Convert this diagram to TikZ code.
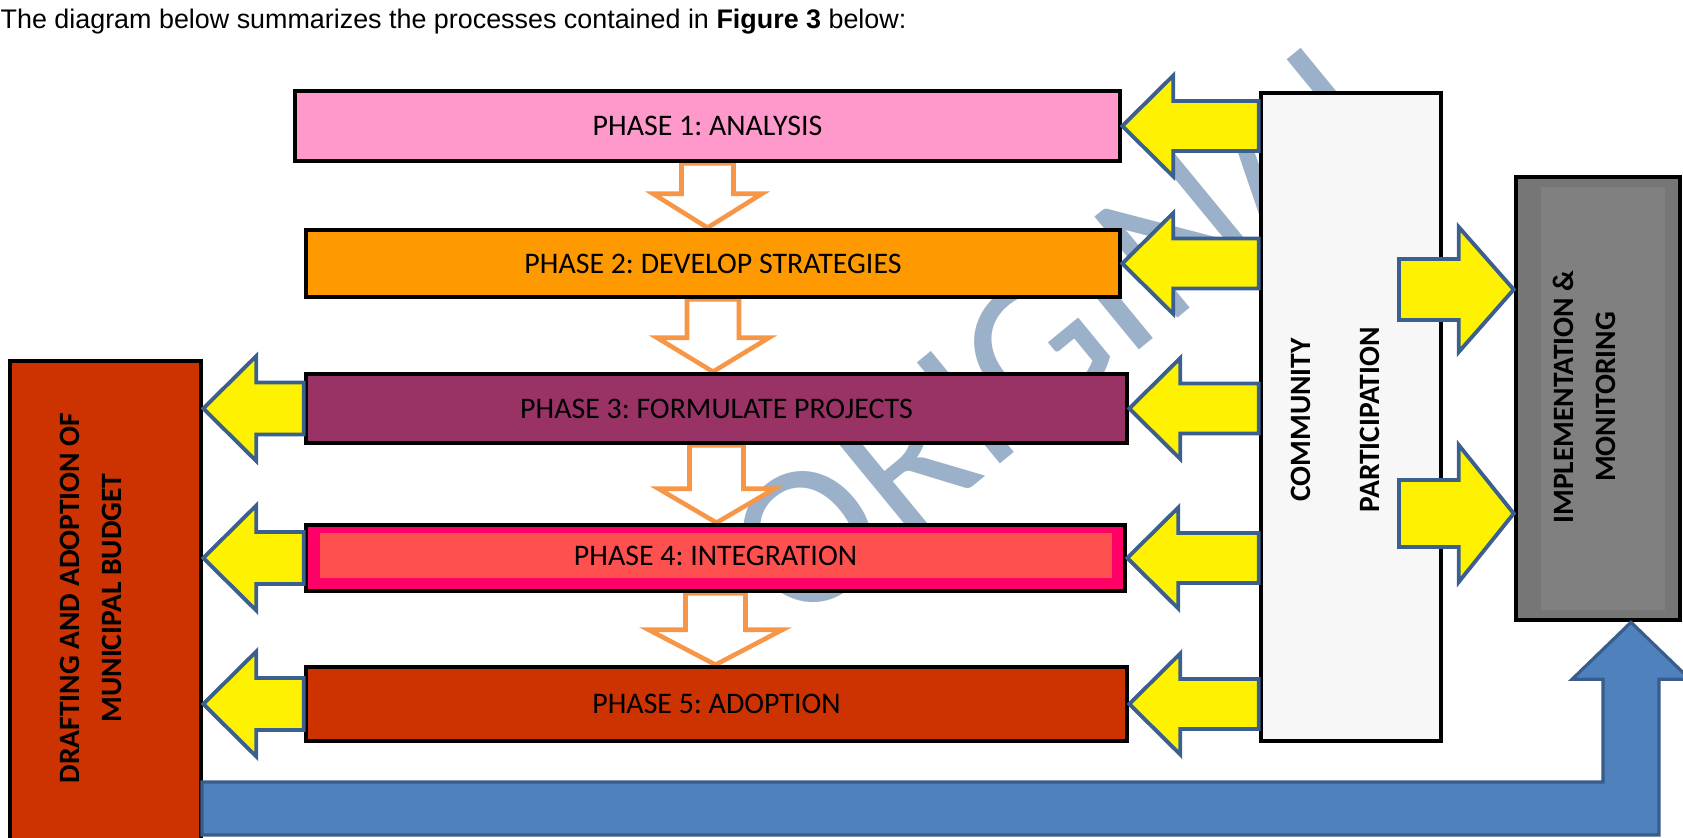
\documentclass[tikz,border=0pt]{standalone}
\usepackage{fontspec}
\usepackage{xcolor}
\usepackage{tikz}
\usetikzlibrary{calc,backgrounds}
\newfontfamily\calfont{Carlito}
\newfontfamily\capfont{Liberation Sans}
\definecolor{phaseA}{HTML}{FF99CC}
\definecolor{phaseB}{HTML}{FF9900}
\definecolor{phaseC}{HTML}{993366}
\definecolor{phaseD}{HTML}{FF0066}
\definecolor{phaseDin}{HTML}{FF5050}
\definecolor{phaseE}{HTML}{CC3300}
\definecolor{commfill}{HTML}{F7F7F7}
\definecolor{implout}{HTML}{767676}
\definecolor{implin}{HTML}{808080}
\definecolor{arrowedge}{HTML}{3B5F8E}
\definecolor{flowline}{HTML}{F79646}
\definecolor{budgetblue}{HTML}{4F81BD}
\definecolor{budgetedge}{HTML}{385D8A}
\definecolor{wmark}{HTML}{9BB0C9}
\frenchspacing
\tikzset{
  box/.style={draw=black, line width=1.3pt, inner sep=0pt},
  ptext/.style={text=black, font={\calfont\fontsize{8.5}{10}\selectfont}},
  phase/.style={box, ptext},
  vlab/.style={rotate=90, align=center, inner sep=0pt, font={\calfont\bfseries\fontsize{8.4}{12}\selectfont}},
  yarrow/.style={fill=yellow, draw=arrowedge, line width=1.1pt},
  flow/.style={fill=white, draw=flowline, line width=1.3pt},
  budget/.style={fill=budgetblue, draw=budgetedge, line width=0.9pt},
  wm/.style={text=wmark, rotate=39.4, inner sep=0pt, font={\calfont\fontsize{58}{62}\selectfont}},
}
% tail, tip, half shaft, half head, head length
\newcommand{\blockarrow}[6]{%
  \coordinate (ba) at ($(#3)!#6!(#2)$);
  \draw[#1] ($(#2)!#4!90:(#3)$) -- ($(ba)!#4!90:(#3)$) -- ($(ba)!#5!90:(#3)$) -- (#3)
    -- ($(ba)!#5!-90:(#3)$) -- ($(ba)!#4!-90:(#3)$) -- ($(#2)!#4!-90:(#3)$) -- cycle;%
}

\begin{document}
\begin{tikzpicture}
  \useasboundingbox (0,0) rectangle (16.83,-8.37);
  \node[anchor=base west, inner sep=0pt, font={\capfont\fontsize{7.65}{9}\selectfont}] (cap) at (0,-0.29)
    {The diagram below summarizes the processes contained in \textbf{Figure 3} below:};

  \node[phase, fill=phaseA, minimum width=8.25cm, minimum height=0.70cm] (p1) at (7.075,-1.26) {PHASE 1: ANALYSIS};
  \node[phase, fill=phaseB, minimum width=8.14cm, minimum height=0.67cm] (p2) at (7.13,-2.635) {PHASE 2: DEVELOP STRATEGIES};
  \node[phase, fill=phaseC, minimum width=8.21cm, minimum height=0.69cm] (p3) at (7.165,-4.085) {PHASE 3: FORMULATE PROJECTS};
  \node[phase, fill=phaseD, minimum width=8.19cm, minimum height=0.66cm] (p4) at (7.155,-5.58) {};
  \fill[phaseDin] ($(p4.north west)+(0.16,-0.10)$) rectangle ($(p4.south east)+(-0.15,0.15)$);
  \node[ptext] (p4t) at (7.155,-5.555) {PHASE 4: INTEGRATION};
  \node[phase, fill=phaseE, minimum width=8.21cm, minimum height=0.74cm] (p5) at (7.165,-7.04) {PHASE 5: ADOPTION};

  \node[box, fill=phaseE, minimum width=1.91cm, minimum height=4.84cm] (draft) at (1.055,-6.03) {};
  \node[vlab] (draft-t) at (0.91,-5.98) {DRAFTING AND ADOPTION OF\\MUNICIPAL BUDGET};

  \node[box, fill=commfill, minimum width=1.80cm, minimum height=6.48cm] (comm) at (13.51,-4.17) {};
  \node[vlab] (comm-t) at (13.355,-4.20) {COMMUNITY\\[7.6pt]PARTICIPATION};

  \node[box, fill=implout, minimum width=1.64cm, minimum height=4.43cm] (impl) at (15.98,-3.985) {};
  \fill[implin] ($(impl.north west)+(0.27,-0.12)$) rectangle ($(impl.south east)+(-0.17,0.12)$);
  \node[vlab] (impl-t) at (15.845,-3.97) {IMPLEMENTATION \&\\MONITORING};

  \begin{pgfonlayer}{background}
    \node[wm] (wmk) at (10.70,-3.22) {ORIGINAL};
    \blockarrow{flow}{p1.south}{p1.south |- p2.north}{0.26cm}{0.545cm}{0.34cm}
    \blockarrow{flow}{p2.south}{p2.south |- p3.north}{0.26cm}{0.56cm}{0.34cm}
    \blockarrow{flow}{p3.south}{p3.south |- p4.north}{0.27cm}{0.58cm}{0.34cm}
    \blockarrow{flow}{p4.south}{p4.south |- p5.north}{0.30cm}{0.67cm}{0.35cm}
  \end{pgfonlayer}

  \foreach \p in {p1,p2,p3,p4,p5} {\blockarrow{yarrow}{comm.west |- \p.east}{\p.east}{0.25cm}{0.505cm}{0.51cm}}
  \foreach \p in {p3,p4,p5} {\blockarrow{yarrow}{\p.west}{draft.east |- \p.west}{0.26cm}{0.525cm}{0.53cm}}

  \coordinate (fa) at (13.99,-2.895);
  \coordinate (fb) at (13.99,-5.135);
  \blockarrow{yarrow}{fa}{impl.west |- fa}{0.305cm}{0.625cm}{0.55cm}
  \blockarrow{yarrow}{fb}{impl.west |- fb}{0.335cm}{0.685cm}{0.55cm}

  \coordinate (btail) at (2.02,-8.085);
  \coordinate (btip) at ($(impl.south)+(0.33,0)$);
  \draw[budget] ($(btail)+(0,0.265)$) -- ($(btip |- btail)+(-0.28,0.265)$) -- ($(btip)+(-0.28,-0.57)$)
    -- ($(btip)+(-0.59,-0.57)$) -- (btip) -- ($(btip)+(0.59,-0.57)$) -- ($(btip)+(0.28,-0.57)$)
    -- ($(btip |- btail)+(0.28,-0.265)$) -- ($(btail)+(0,-0.265)$) -- cycle;
\end{tikzpicture}
\end{document}
